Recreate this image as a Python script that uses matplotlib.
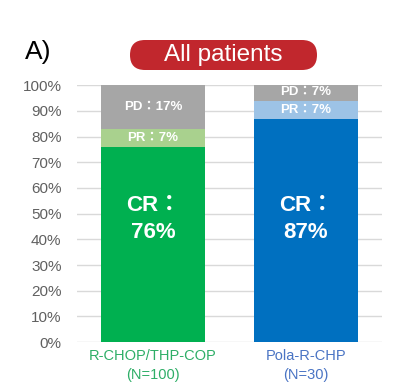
import matplotlib.pyplot as plt
from matplotlib.patches import FancyBboxPatch

plt.rcParams['font.family'] = ['Liberation Sans', 'Noto Sans CJK JP', 'DejaVu Sans']

# data
groups = ['R-CHOP/THP-COP\n(N=100)', 'Pola-R-CHP\n(N=30)']
cr = [76, 87]
pr = [7, 7]
pd_ = [17, 7]
yticks = list(range(0, 101, 10))

# colours
cr_col = ['#00B050', '#0070C0']
pr_col = ['#A9D18E', '#9DC3E6']
pd_col = '#A6A6A6'
lab_col = ['#2EAE67', '#4A74C4']

W, H = 404, 387
fig = plt.figure(figsize=(W / 100, H / 100), dpi=100)
ax = fig.add_axes([0.19, 0.116, 0.756, 0.664])

x = [0, 1]
w = 0.68
ax.bar(x, cr, w, color=cr_col, zorder=2)
ax.bar(x, pr, w, bottom=cr, color=pr_col, zorder=2)
bot2 = [c + p for c, p in zip(cr, pr)]
ax.bar(x, pd_, w, bottom=bot2, color=pd_col, zorder=2)

for i in x:
    ax.text(i, 48, f'CR：\n{cr[i]}%', color='white', fontsize=16, fontweight='bold',
            ha='center', va='center', linespacing=1.4, zorder=3)
    ax.text(i, cr[i] + pr[i] / 2, f'PR：{pr[i]}%', color='white', fontsize=9.5,
            fontweight='bold', ha='center', va='center', zorder=3)
    ax.text(i, min(bot2[i] + pd_[i] / 2, 97.5), f'PD：{pd_[i]}%', color='white',
            fontsize=9.5, fontweight='bold', ha='center', va='center', zorder=3)

ax.set_xlim(-0.5, 1.5)
ax.set_ylim(0, 100)
ax.set_yticks(yticks)
ax.set_yticklabels([f'{t}%' for t in yticks], fontsize=11, color='#606060')
ax.yaxis.grid(True, color='#D9D9D9', linewidth=1, zorder=0)
ax.tick_params(axis='y', length=0, pad=11)
ax.set_xticks(x)
ax.set_xticklabels(groups, fontsize=10.5, linespacing=1.45)
for t, c in zip(ax.get_xticklabels(), lab_col):
    t.set_color(c)
ax.tick_params(axis='x', length=0, pad=5)
for s in ax.spines.values():
    s.set_visible(False)

# header, drawn in pixel coordinates
hx = fig.add_axes([0, 0, 1, 1], zorder=-1)
hx.set_xlim(0, W)
hx.set_ylim(H, 0)
hx.axis('off')
hx.text(25, 52, 'A)', fontsize=19, ha='left', va='center')
hx.add_patch(FancyBboxPatch((130, 40), 187, 30, boxstyle='round,pad=0,rounding_size=15',
                            facecolor='#C1272D', edgecolor='none'))
hx.text(223.5, 55, 'All patients', fontsize=17.5, color='white', ha='center', va='center')

fig.savefig('out.png', dpi=100)
